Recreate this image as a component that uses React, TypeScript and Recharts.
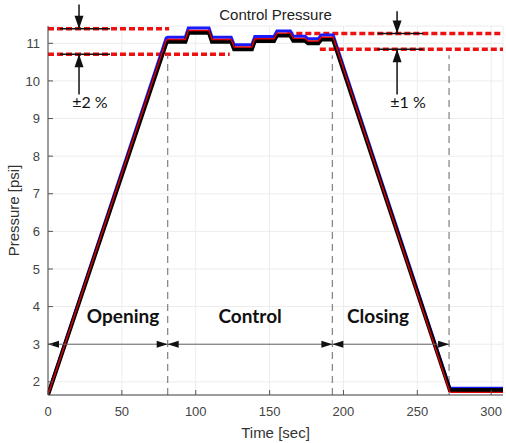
import {
  CartesianGrid,
  Line,
  LineChart,
  ReferenceDot,
  ReferenceLine,
  XAxis,
  YAxis,
} from "recharts";

const times = [0, 80, 81, 93, 95, 109, 111, 124, 126, 138, 140, 153, 155, 164, 166, 174, 176, 183, 185, 193, 272, 273, 308];
const setpoint = [1.65, 11.08, 11.1, 11.1, 11.34, 11.34, 11.1, 11.1, 10.9, 10.9, 11.12, 11.12, 11.27, 11.27, 11.13, 11.13, 11.06, 11.06, 11.16, 11.16, 1.73, 1.72, 1.72];
const measured = [1.65, 11.0, 11.04, 11.04, 11.28, 11.28, 11.04, 11.04, 10.84, 10.84, 11.06, 11.06, 11.21, 11.21, 11.07, 11.07, 11.0, 11.0, 11.1, 11.1, 1.78, 1.78, 1.78];
const upper = [1.68, 11.14, 11.16, 11.16, 11.41, 11.41, 11.16, 11.16, 10.96, 10.96, 11.18, 11.18, 11.33, 11.33, 11.19, 11.19, 11.12, 11.12, 11.22, 11.22, 1.84, 1.83, 1.83];

const xTicks = [0, 50, 100, 150, 200, 250, 300];
const yTicks = [2, 3, 4, 5, 6, 7, 8, 9, 10, 11];

// phase boundaries and tolerance bands
const phaseEdges = [0, 81, 192.5, 271.5];
const phaseNames = ["Opening", "Control", "Closing"];
const phaseLabelX = [50.8, 136.8, 223.4];
const band2 = [10.71, 11.39];
const band1 = [10.84, 11.26];

const data = times.map((t, i) => ({
  t,
  sp: setpoint[i],
  pv: measured[i],
  ub: upper[i],
}));

const XMAX = 308;
const YMIN = 1.65;
const YMAX = 11.46;

function head(x: number, y: number, dx: number, dy: number, len: number, half: number) {
  const d = Math.hypot(dx, dy) || 1;
  const ux = dx / d;
  const uy = dy / d;
  const bx = x - ux * len;
  const by = y - uy * len;
  return `${x},${y} ${bx - uy * half},${by + ux * half} ${bx + uy * half},${by - ux * half}`;
}

function DoubleArrow(p: any) {
  const { x1, y1, x2, y2 } = p;
  return (
    <g>
      <line x1={x1} y1={y1} x2={x2} y2={y2} stroke="#666" strokeWidth={1} />
      <polygon points={head(x1, y1, x1 - x2, y1 - y2, 11, 3.5)} fill="#111" />
      <polygon points={head(x2, y2, x2 - x1, y2 - y1, 11, 3.5)} fill="#111" />
    </g>
  );
}

function Arrow(p: any) {
  const { x1, y1, x2, y2 } = p;
  return (
    <g>
      <line x1={x1} y1={y1} x2={x2} y2={y2} stroke="#111" strokeWidth={1.5} />
      <polygon points={head(x2, y2, x2 - x1, y2 - y1, 13, 4.5)} fill="#111" />
    </g>
  );
}

const phaseText = (label: string) => (p: any) => (
  <text
    x={p.cx}
    y={p.cy}
    textAnchor="middle"
    dominantBaseline="central"
    fontFamily="Lato, 'Open Sans', sans-serif"
    fontWeight={700}
    fontSize={19}
    fill="#111"
  >
    {label}
  </text>
);

const pctText = (label: string) => (p: any) => (
  <text
    x={p.cx}
    y={p.cy}
    textAnchor="middle"
    dominantBaseline="central"
    fontFamily="Lato, 'Open Sans', sans-serif"
    fontSize={16}
    fill="#111"
  >
    {label}
  </text>
);

const tickStyle = { fill: "#444", fontSize: 13 };
const redDash = { stroke: "#ee1111", strokeWidth: 3.5, strokeDasharray: "6 3" };

export default function App() {
  return (
    <div
      style={{
        position: "absolute",
        left: 0,
        top: 0,
        width: 506,
        height: 443,
        background: "#fff",
        fontFamily: "'Liberation Sans', Arial, sans-serif",
      }}
    >
      <div
        style={{
          position: "absolute",
          left: 0,
          top: 5,
          width: 551,
          textAlign: "center",
          fontSize: 15,
          lineHeight: "20px",
          color: "#222",
        }}
      >
        Control Pressure
      </div>
      <LineChart
        width={506}
        height={443}
        data={data}
        margin={{ top: 26, right: 3, bottom: 0, left: 0 }}
        style={{ position: "absolute", left: 0, top: 0 }}
      >
        <CartesianGrid stroke="#ececec" />
        <XAxis
          dataKey="t"
          type="number"
          domain={[0, XMAX]}
          ticks={xTicks}
          allowDataOverflow
          height={48}
          tick={tickStyle}
          tickSize={-5}
          tickMargin={17}
          tickLine={{ stroke: "#555" }}
          axisLine={{ stroke: "#444" }}
          label={{ value: "Time [sec]", position: "insideBottom", offset: 5, fill: "#333", fontSize: 15 }}
        />
        <XAxis
          xAxisId="top"
          orientation="top"
          dataKey="t"
          type="number"
          domain={[0, XMAX]}
          ticks={xTicks}
          height={0}
          tickFormatter={() => ""}
          tickSize={-5}
          tickLine={{ stroke: "#666" }}
          axisLine={{ stroke: "#777" }}
        />
        <YAxis
          type="number"
          domain={[YMIN, YMAX]}
          ticks={yTicks}
          allowDataOverflow
          width={48}
          tick={tickStyle}
          tickSize={-5}
          tickMargin={13}
          tickLine={{ stroke: "#555" }}
          axisLine={{ stroke: "#444" }}
          label={{
            value: "Pressure [psi]",
            position: "insideLeft",
            angle: -90,
            offset: 14,
            fill: "#333",
            fontSize: 15,
            style: { textAnchor: "middle" },
          }}
        />
        <YAxis
          yAxisId="right"
          orientation="right"
          type="number"
          domain={[YMIN, YMAX]}
          ticks={yTicks}
          width={0}
          tickFormatter={() => ""}
          tickSize={-5}
          tickLine={{ stroke: "#666" }}
          axisLine={{ stroke: "#777" }}
        />

        {/* tolerance bands */}
        <ReferenceLine segment={[{ x: 0, y: band2[1] }, { x: 82, y: band2[1] }]} {...redDash} ifOverflow="visible" />
        <ReferenceLine segment={[{ x: 0, y: band2[0] }, { x: 123, y: band2[0] }]} {...redDash} ifOverflow="visible" />
        <ReferenceLine segment={[{ x: 162, y: band1[1] }, { x: XMAX, y: band1[1] }]} {...redDash} ifOverflow="visible" />
        <ReferenceLine segment={[{ x: 184, y: band1[0] }, { x: XMAX, y: band1[0] }]} {...redDash} ifOverflow="visible" />

        {/* phase boundaries */}
        {phaseEdges.slice(1).map((e) => (
          <ReferenceLine
            key={`v${e}`}
            segment={[{ x: e, y: YMIN }, { x: e, y: 10.68 }]}
            stroke="#8a8a8a"
            strokeWidth={1.3}
            strokeDasharray="7 5"
            ifOverflow="visible"
          />
        ))}

        <Line dataKey="ub" stroke="#1a1aff" strokeWidth={3} dot={false} isAnimationActive={false} />
        <Line dataKey="pv" stroke="#000" strokeWidth={4} dot={false} isAnimationActive={false} />
        <Line dataKey="sp" stroke="#e00000" strokeWidth={1.4} dot={false} isAnimationActive={false} />

        {/* phase arrows */}
        {phaseNames.map((n, i) => (
          <ReferenceLine
            key={`h${n}`}
            segment={[{ x: phaseEdges[i], y: 3 }, { x: phaseEdges[i + 1], y: 3 }]}
            shape={DoubleArrow}
            ifOverflow="visible"
          />
        ))}
        {phaseNames.map((n, i) => (
          <ReferenceDot key={`l${n}`} x={phaseLabelX[i]} y={3.77} r={0} shape={phaseText(n)} ifOverflow="visible" />
        ))}

        {/* ±2 % marker */}
        <ReferenceLine segment={[{ x: 8, y: band2[1] }, { x: 42, y: band2[1] }]} stroke="#111" strokeWidth={1.5} ifOverflow="visible" />
        <ReferenceLine segment={[{ x: 8, y: band2[0] }, { x: 42, y: band2[0] }]} stroke="#111" strokeWidth={1.5} ifOverflow="visible" />
        <ReferenceLine segment={[{ x: 21, y: 12.03 }, { x: 21, y: band2[1] }]} shape={Arrow} ifOverflow="visible" />
        <ReferenceLine segment={[{ x: 21, y: 9.64 }, { x: 21, y: band2[0] }]} shape={Arrow} ifOverflow="visible" />
        <ReferenceDot x={28.4} y={9.45} r={0} shape={pctText("±2 %")} ifOverflow="visible" />

        {/* ±1 % marker */}
        <ReferenceLine segment={[{ x: 223, y: band1[1] }, { x: 254, y: band1[1] }]} stroke="#111" strokeWidth={1.5} ifOverflow="visible" />
        <ReferenceLine segment={[{ x: 223, y: band1[0] }, { x: 254, y: band1[0] }]} stroke="#111" strokeWidth={1.5} ifOverflow="visible" />
        <ReferenceLine segment={[{ x: 236.3, y: 11.85 }, { x: 236.3, y: band1[1] }]} shape={Arrow} ifOverflow="visible" />
        <ReferenceLine segment={[{ x: 236.3, y: 9.64 }, { x: 236.3, y: band1[0] }]} shape={Arrow} ifOverflow="visible" />
        <ReferenceDot x={243.7} y={9.45} r={0} shape={pctText("±1 %")} ifOverflow="visible" />
      </LineChart>
    </div>
  );
}
